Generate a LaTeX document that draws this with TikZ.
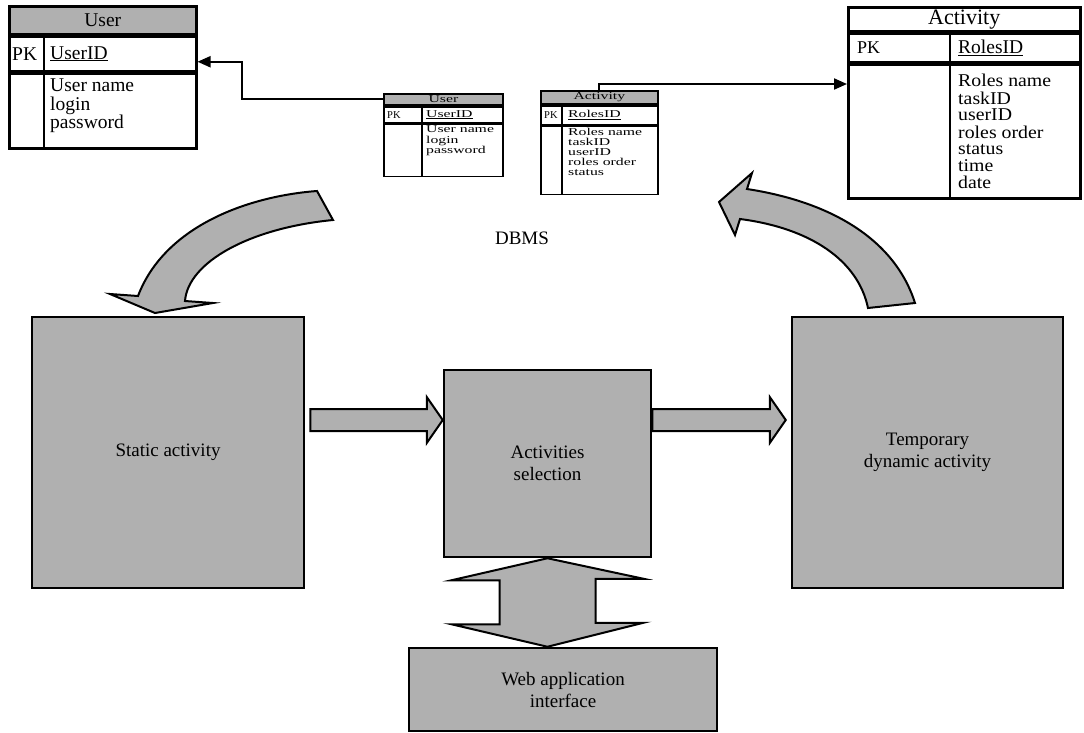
\documentclass[tikz,border=0pt]{standalone}
\usepackage{fontspec}
\setmainfont{Liberation Serif}
\usetikzlibrary{arrows.meta, positioning, calc}

\definecolor{boxgray}{RGB}{176,176,176}
\newcommand{\squeeze}[1]{\scalebox{1.5}[1]{#1}}
\newcommand{\widen}[1]{\scalebox{1.1}[1]{#1}}

\begin{document}
\begin{tikzpicture}[
    x=1pt, y=-1pt,
    bigbox/.style={rectangle, draw=black, line width=2.5pt, fill=boxgray, align=center, font=\fontsize{19}{22}\selectfont},
    tabcell/.style={rectangle, draw=black, line width=2.5pt, anchor=north west, inner sep=0pt},
    minicell/.style={tabcell, line width=1.8pt},
    txt/.style={inner sep=0pt, align=left},
    bigtxt/.style={txt, font=\fontsize{19.5}{18.3}\selectfont},
    acttxt/.style={txt, font=\fontsize{18}{16.2}\selectfont},
    minitxt/.style={txt, font=\fontsize{10.5}{10}\selectfont},
    link/.style={-{Triangle[length=13pt, width=11pt]}, line width=2pt},
    blockarrow/.style={draw=black, line width=2pt, fill=boxgray}
]
\useasboundingbox (0,0) rectangle (1084,732);

% Processing blocks
\node[bigbox, minimum width=272pt, minimum height=271pt] (static) at (168,452.5) {Static activity};
\node[bigbox, minimum width=207pt, minimum height=187pt] (select) at (547.5,463.5) {Activities\\selection};
\node[bigbox, minimum width=271pt, minimum height=271pt] (temp) at (927.5,452.5) {Temporary\\dynamic activity};
\node[bigbox, minimum width=308pt, minimum height=83pt] (webui) at (563,689.5) {Web application\\interface};

\node[font=\fontsize{19}{22}\selectfont] (dbms) at (522,238) {DBMS};

% User table (large)
\node[tabcell, fill=boxgray, minimum width=187pt, minimum height=28pt] (uhead) at (8,5) {};
\node[tabcell, minimum width=187pt, minimum height=34pt] (upk) at (uhead.south west) {};
\node[tabcell, minimum width=187pt, minimum height=75pt] (ubody) at (upk.south west) {};
\draw[line width=2.5pt] ([xshift=36pt]upk.north west) -- ([xshift=36pt]ubody.south west);
\node[bigtxt] at (uhead) {User};
\node[bigtxt, anchor=west] at ([xshift=4pt]upk.west) {PK};
\node[bigtxt, anchor=west] at ([xshift=42pt]upk.west) {\underline{UserID}};
\node[bigtxt, anchor=north west] at ([xshift=42pt, yshift=-7pt]ubody.north west) {User name\\login\\password};

% Activity table (large)
\node[tabcell, minimum width=232pt, minimum height=24pt] (ahead) at (847,6) {};
\node[tabcell, minimum width=232pt, minimum height=28pt] (apk) at (ahead.south west) {};
\node[tabcell, minimum width=232pt, minimum height=134pt] (abody) at (apk.south west) {};
\draw[line width=2.5pt] ([xshift=103pt]apk.north west) -- ([xshift=103pt]abody.south west);
\node[acttxt, font=\fontsize{22}{16}\selectfont] at (ahead) {Activity};
\node[acttxt, anchor=west, font=\fontsize{18}{16}\selectfont] at ([xshift=10pt]apk.west) {PK};
\node[acttxt, anchor=west, font=\fontsize{19.5}{16}\selectfont] at ([xshift=111pt]apk.west) {\underline{RolesID}};
\node[acttxt, anchor=north west] at ([xshift=111pt, yshift=-11pt]abody.north west)
    {\widen{\begin{tabular}{@{}l@{}}Roles name\\taskID\\userID\\roles order\\status\\time\\date\end{tabular}}};

% User table (small)
\node[minicell, fill=boxgray, minimum width=119pt, minimum height=11pt] (suhead) at (383,93) {};
\node[minicell, minimum width=119pt, minimum height=16pt] (supk) at (suhead.south west) {};
\node[minicell, minimum width=119pt, minimum height=52pt] (subody) at (supk.south west) {};
\draw[line width=1.8pt] ([xshift=39pt]supk.north west) -- ([xshift=39pt]subody.south west);
\node[minitxt] at (suhead) {\squeeze{User}};
\node[minitxt, anchor=west] at ([xshift=4pt]supk.west) {PK};
\node[minitxt, anchor=west] at ([xshift=43pt]supk.west) {\squeeze{\underline{UserID}}};
\node[minitxt, anchor=north west] at ([xshift=43pt, yshift=-2pt]subody.north west)
    {\squeeze{\begin{tabular}{@{}l@{}}User name\\login\\password\end{tabular}}};

% Activity table (small)
\node[minicell, fill=boxgray, minimum width=117pt, minimum height=13pt] (sahead) at (540,90) {};
\node[minicell, minimum width=117pt, minimum height=19pt] (sapk) at (sahead.south west) {};
\node[minicell, minimum width=117pt, minimum height=68pt] (sabody) at (sapk.south west) {};
\draw[line width=1.8pt] ([xshift=22pt]sapk.north west) -- ([xshift=22pt]sabody.south west);
\node[minitxt] at (sahead) {\squeeze{Activity}};
\node[minitxt, anchor=west] at ([xshift=4pt]sapk.west) {PK};
\node[minitxt, anchor=west] at ([xshift=28pt]sapk.west) {\squeeze{\underline{RolesID}}};
\node[minitxt, anchor=north west] at ([xshift=28pt, yshift=-2pt]sabody.north west)
    {\squeeze{\begin{tabular}{@{}l@{}}Roles name\\taskID\\userID\\roles order\\status\end{tabular}}};

% Table links
\draw[link] (suhead.west) -- ++(-141,0) |- ([yshift=-8pt]upk.east);
\draw[link] (sahead.north) |- ([yshift=-21pt]abody.north west);

% Flow arrows
\path (static.east |- 0,420) ++(5,0) coordinate (f1s);
\coordinate (f1t) at (select.west |- 0,420);
\draw[blockarrow] (f1s) ++(0,-11) -- ($(f1t)+(-16,-11)$) -- ++(0,-12) -- (f1t) -- ++(-16,23) -- ++(0,-12) -- ($(f1s)+(0,11)$) -- cycle;

\coordinate (f2s) at (select.east |- 0,420);
\path (temp.west |- 0,420) ++(-5,0) coordinate (f2t);
\draw[blockarrow] (f2s) ++(0,-11) -- ($(f2t)+(-16,-11)$) -- ++(0,-12) -- (f2t) -- ++(-16,23) -- ++(0,-12) -- ($(f2s)+(0,11)$) -- cycle;

% Selection <-> web interface
\coordinate (v1) at (select.south);
\coordinate (v2) at (select.south |- webui.north);
\draw[blockarrow] (v1) -- ++(-96,22) -- ++(48,0) -- ++(0,44) -- ++(-48,0) -- (v2)
    -- ++(96,-24) -- ++(-48,0) -- ++(0,-44) -- ++(48,0) -- cycle;

% DBMS -> static activity
\draw[blockarrow] (317,191) .. controls (250,196) and (165,225) .. (138,296) -- (110,294) -- (155,313)
    -- (213,303) -- (185,301) .. controls (188,262) and (250,228) .. (333,220) -- cycle;

% Temporary activity -> DBMS
\draw[blockarrow] (915,303) .. controls (895,240) and (832,202) .. (747,189) -- (752,173) -- (719,202)
    -- (735,235) -- (740,219) .. controls (810,228) and (858,260) .. (868,308) -- cycle;

\end{tikzpicture}
\end{document}
